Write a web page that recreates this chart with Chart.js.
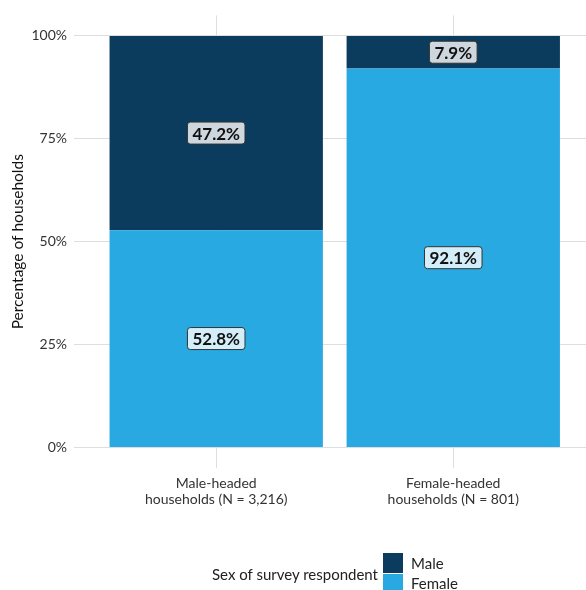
<!DOCTYPE html>
<html>
<head>
<meta charset="utf-8">
<script src="https://cdn.jsdelivr.net/npm/chart.js@4"></script>
<style>
  html, body { margin: 0; padding: 0; background: #fff; overflow: hidden; }
  #wrap { position: relative; width: 586px; height: 590px; }
  #legend { position: absolute; left: 0; top: 0; font-family: Lato, sans-serif; color: #222; }
  #legend .title { position: absolute; left: 212px; top: 565px; font-size: 15px; white-space: nowrap; }
  #legend .key { position: absolute; left: 383px; width: 20px; height: 20px; }
  #legend .lab { position: absolute; left: 411px; font-size: 15px; white-space: nowrap; }
</style>
</head>
<body>
<div id="wrap">
  <canvas id="chart" width="586" height="590"></canvas>
  <div id="legend"></div>
</div>
<script>
// --- データ ---
const categories = [['Male-headed', 'households (N = 3,216)'], ['Female-headed', 'households (N = 801)']];
const femaleShare = [52.8, 92.1];
const maleShare = [47.2, 7.9];
const yTicks = [0, 25, 50, 75, 100];
const seriesNames = ['Male', 'Female'];

const darkBlue = '#0B3B5D';
const lightBlue = '#29A9E1';
const gridColor = '#DEDEDE';

// --- 凡例 (HTML) ---
const legend = document.getElementById('legend');
legend.innerHTML =
  '<div class="title">Sex of survey respondent</div>' +
  '<div class="key" style="top:553px;background:' + darkBlue + '"></div>' +
  '<div class="key" style="top:574px;background:' + lightBlue + '"></div>' +
  '<div class="lab" style="top:554px">' + seriesNames[0] + '</div>' +
  '<div class="lab" style="top:574px">' + seriesNames[1] + '</div>';

// --- バー上のラベル ---
const barLabels = {
  id: 'barLabels',
  afterDatasetsDraw(chart) {
    const ctx = chart.ctx;
    ctx.save();
    ctx.font = 'bold 17px Lato, sans-serif';
    ctx.textAlign = 'center';
    ctx.textBaseline = 'middle';
    chart.data.datasets.forEach((ds, di) => {
      const meta = chart.getDatasetMeta(di);
      meta.data.forEach((bar, i) => {
        const text = ds.data[i].y.toFixed(1) + '%';
        const cx = bar.x;
        const cy = (bar.y + bar.base) / 2;
        const w = ctx.measureText(text).width + 10;
        const h = 22;
        ctx.beginPath();
        ctx.roundRect(cx - w / 2, cy - h / 2, w, h, 3);
        ctx.fillStyle = 'rgba(255,255,255,0.8)';
        ctx.fill();
        ctx.lineWidth = 1;
        ctx.strokeStyle = '#333';
        ctx.stroke();
        ctx.fillStyle = '#111';
        ctx.fillText(text, cx, cy + 1);
      });
    });
    ctx.restore();
  }
};

const toPoints = arr => arr.map((v, i) => ({ x: i, y: v }));

new Chart(document.getElementById('chart'), {
  type: 'bar',
  data: {
    datasets: [
      {
        label: seriesNames[1],
        data: toPoints(femaleShare),
        backgroundColor: lightBlue,
        grouped: false,
        barPercentage: 0.9,
        categoryPercentage: 1.0
      },
      {
        label: seriesNames[0],
        data: toPoints(maleShare),
        backgroundColor: darkBlue,
        grouped: false,
        barPercentage: 0.9,
        categoryPercentage: 1.0
      }
    ]
  },
  options: {
    responsive: false,
    animation: false,
    layout: { padding: { top: 13, right: 0, left: 0, bottom: 0 } },
    plugins: {
      legend: { display: false },
      tooltip: { enabled: false }
    },
    scales: {
      x: {
        type: 'linear',
        offset: false,
        min: -0.6,
        max: 1.56,
        afterBuildTicks: s => { s.ticks = categories.map((c, i) => ({ value: i })); },
        afterFit: s => { s.height = 122; },
        grid: { color: gridColor, drawTicks: false, offset: false },
        border: { display: false },
        ticks: {
          padding: 7,
          color: '#333',
          font: { family: 'Lato, sans-serif', size: 14, lineHeight: 1.15 },
          callback: v => categories[v]
        }
      },
      y: {
        stacked: true,
        min: -5,
        max: 105,
        afterBuildTicks: s => { s.ticks = yTicks.map(v => ({ value: v })); },
        afterFit: s => { s.width = 74; },
        grid: { color: gridColor, drawTicks: false },
        border: { display: false },
        title: {
          display: true,
          text: 'Percentage of households',
          color: '#111',
          font: { family: 'Lato, sans-serif', size: 15.5 },
          padding: { top: 9, bottom: 0 }
        },
        ticks: {
          padding: 7,
          color: '#333',
          font: { family: 'Lato, sans-serif', size: 14 },
          callback: v => v + '%'
        }
      }
    }
  },
  plugins: [barLabels]
});
</script>
</body>
</html>
